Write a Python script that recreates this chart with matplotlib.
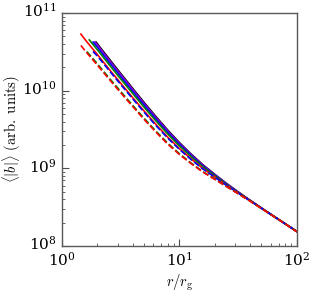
import matplotlib
matplotlib.use("Agg")
import matplotlib.pyplot as plt
from matplotlib.ticker import LogLocator, NullFormatter, FixedLocator
from matplotlib.transforms import ScaledTranslation

plt.rcParams['mathtext.fontset'] = 'cm'
plt.rcParams['font.family'] = ['DejaVu Serif']

# radius grids (r / r_g)
r_grid = [2.0, 2.51, 3.16, 3.98, 5.01, 6.31, 7.94, 10.0, 12.6, 15.8, 20.0, 25.1,
          31.6, 39.8, 50.1, 63.1, 79.4, 100]

# log10 <|b|> values
r_red = [1.45, 1.58] + r_grid
lb_red_solid = [10.729, 10.655, 10.467, 10.281, 10.098, 9.916, 9.738, 9.566, 9.403, 9.255,
                9.121, 9.000, 8.890, 8.786, 8.685, 8.585, 8.485, 8.385, 8.287, 8.187]
lb_red_dash = [10.583, 10.512, 10.330, 10.152, 9.975, 9.801, 9.630, 9.467, 9.314, 9.179,
               9.060, 8.953, 8.858, 8.766, 8.673, 8.579, 8.482, 8.384, 8.287, 8.182]

r_green_solid = [1.71] + r_grid
lb_green_solid = [10.654, 10.529, 10.340, 10.153, 9.969, 9.787, 9.611, 9.444, 9.289, 9.149,
                  9.021, 8.905, 8.795, 8.690, 8.588, 8.486, 8.386, 8.287, 8.187]
r_green_dash = [1.63] + r_grid
lb_green_dash = [10.504, 10.348, 10.168, 9.991, 9.816, 9.644, 9.480, 9.326, 9.189, 9.068,
                 8.959, 8.862, 8.768, 8.675, 8.580, 8.482, 8.384, 8.287, 8.185]

r_blue = [1.84] + r_grid
lb_blue_solid = [10.626, 10.562, 10.371, 10.183, 9.996, 9.813, 9.635, 9.465, 9.308, 9.163,
                 9.032, 8.912, 8.800, 8.693, 8.589, 8.487, 8.387, 8.287, 8.187]
lb_blue_dash = [10.505, 10.448, 10.264, 10.081, 9.901, 9.723, 9.552, 9.391, 9.245, 9.113,
                8.994, 8.886, 8.783, 8.683, 8.584, 8.485, 8.385, 8.287, 8.187]

r_purple = [1.91] + r_grid
lb_purple = [10.627, 10.592, 10.400, 10.210, 10.022, 9.836, 9.656, 9.485, 9.324, 9.177,
             9.043, 8.919, 8.805, 8.696, 8.590, 8.488, 8.387, 8.287, 8.187]

r_black = [1.95] + r_grid[1:]
lb_black = [10.627, 10.415, 10.224, 10.035, 9.849, 9.668, 9.495, 9.333, 9.184, 9.048,
            8.923, 8.807, 8.697, 8.591, 8.488, 8.387, 8.287, 8.187]

y_major = [1e8, 1e9, 1e10, 1e11]
x_major = [1, 10, 100]

fig = plt.figure(figsize=(3.16, 2.97), dpi=100)
ax = fig.add_axes([0.196, 0.172, 0.743, 0.784])

lw = 1.2
series = [
    (r_black, lb_black, 'black', '-'),
    (r_purple, lb_purple, 'darkviolet', '-'),
    (r_blue, lb_blue_solid, 'blue', '-'),
    (r_green_solid, lb_green_solid, 'green', '-'),
    (r_red, lb_red_solid, 'red', '-'),
    (r_blue, lb_blue_dash, 'blue', '--'),
    (r_green_dash, lb_green_dash, 'green', '--'),
    (r_red, lb_red_dash, 'red', '--'),
]
for rr, lb, c, ls in series:
    ax.plot(rr, [10 ** v for v in lb], color=c, lw=lw, ls=ls)

ax.set_xscale('log')
ax.set_yscale('log')
ax.set_xlim(1, 100)
ax.set_ylim(1e8, 1e11)

ax.xaxis.set_major_locator(FixedLocator(x_major))
ax.yaxis.set_major_locator(FixedLocator(y_major))
ax.xaxis.set_minor_locator(LogLocator(base=10, subs=range(2, 10), numticks=20))
ax.yaxis.set_minor_locator(LogLocator(base=10, subs=range(2, 10), numticks=20))
ax.yaxis.set_minor_formatter(NullFormatter())
ax.xaxis.set_minor_formatter(NullFormatter())

ax.tick_params(which='both', direction='in', top=False, right=False, labelsize=11,
               color='0.3')
ax.tick_params(which='major', length=5, width=0.8)
ax.tick_params(which='minor', length=2.5, width=0.6)
ax.tick_params(axis='y', pad=4)
for s in ax.spines.values():
    s.set_color('0.35')
    s.set_linewidth(1.0)

ax.set_xlabel(r'$r/r_\mathrm{g}$', fontsize=10.5, labelpad=3)
ax.set_ylabel(r'$\langle |b| \rangle\ \mathrm{(arb.\ units)}$', fontsize=10.5)
ax.yaxis.set_label_coords(-0.165, 0.5)

fig.canvas.draw()
shift = ScaledTranslation(0, -4.0 / 100, fig.dpi_scale_trans)
for t in ax.yaxis.get_major_ticks():
    t.label1.set_va('baseline')
    t.label1.set_transform(t.label1.get_transform() + shift)

fig.savefig('out.png', dpi=100)
